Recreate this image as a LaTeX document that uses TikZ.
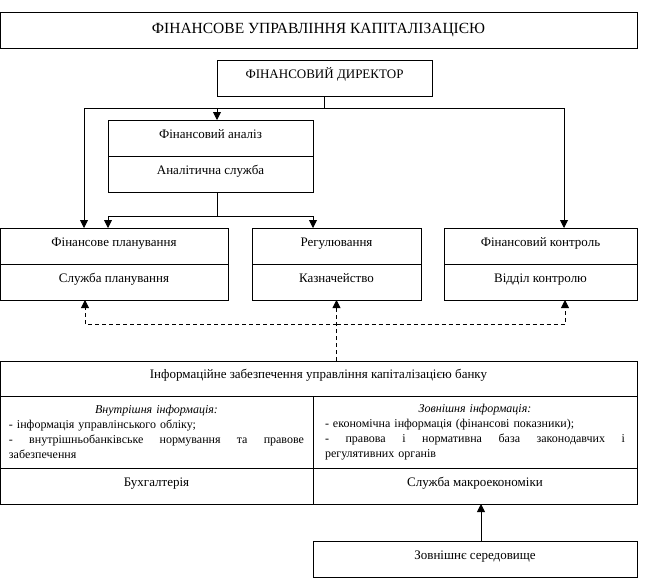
\documentclass[tikz,border=0pt]{standalone}
\usepackage{fontspec}
\setmainfont{Liberation Serif}
\usepackage{tikz}
\usetikzlibrary{arrows.meta,positioning}

\begin{document}
\begin{tikzpicture}[
        x=1pt, y=-1pt,
        box/.style={rectangle, draw, line width=0.9pt, inner sep=0pt, outer sep=0pt, anchor=north west, minimum height=36pt, text height=8pt, text depth=8pt, font=\fontsize{13}{15}\selectfont},
        infobox/.style={rectangle, draw, line width=0.9pt, inner ysep=0pt, outer sep=0pt, anchor=north west, minimum height=72pt, align=left, font=\fontsize{12}{15}\selectfont},
        arrow/.style={-{Triangle[length=8pt,width=8pt]}, line width=0.9pt},
        dasharrow/.style={arrow, dashed, dash pattern=on 4pt off 3pt}
    ]
        \useasboundingbox (0,0) rectangle (660,579);

        % Top
        \node[box, minimum width=637pt, text height=10pt, text depth=4pt, font=\fontsize{15.5}{18}\selectfont] (title) at (0,12) {ФІНАНСОВЕ УПРАВЛІННЯ КАПІТАЛІЗАЦІЄЮ};
        \node[box, minimum width=215pt] (director) at (217,60) {ФІНАНСОВИЙ ДИРЕКТОР};

        % Analysis
        \node[box, minimum width=205pt] (analysis) at (108,120) {Фінансовий аналіз};
        \node[box, minimum width=205pt, below=0pt of analysis] (analytics) {Аналітична служба};

        % Departments
        \node[box, minimum width=228pt] (planning) at (0,228) {Фінансове планування};
        \node[box, minimum width=228pt, below=0pt of planning] (planserv) {Служба планування};
        \node[box, minimum width=169pt] (regulation) at (252,228) {Регулювання};
        \node[box, minimum width=169pt, below=0pt of regulation] (treasury) {Казначейство};
        \node[box, minimum width=193pt] (control) at (444,228) {Фінансовий контроль};
        \node[box, minimum width=193pt, below=0pt of control] (controldep) {Відділ контролю};

        % Information support
        \node[box, minimum width=637pt, minimum height=35pt] (info) at (0,361) {Інформаційне забезпечення управління капіталізацією банку};
        \node[infobox, text width=295pt, inner xsep=9pt] (internal) at (0,396) {%
            \makebox[295pt]{\itshape Внутрішня інформація:}\\
            - інформація управлінського обліку;\\
            \makebox[295pt][s]{-\hfill внутрішньобанківське\hfill нормування\hfill та\hfill правове}\\
            забезпечення};
        \node[infobox, text width=300pt, inner xsep=12pt, right=0pt of internal] (external) {%
            \makebox[300pt]{\itshape Зовнішня інформація:}\\
            - економічна інформація (фінансові показники);\\
            \makebox[300pt][s]{-\hfill правова\hfill і\hfill нормативна\hfill база\hfill законодавчих\hfill і}\\
            регулятивних органів};
        \node[box, minimum width=313pt, below=0pt of internal] (accounting) {Бухгалтерія};
        \node[box, minimum width=324pt, below=0pt of external] (macro) {Служба макроекономіки};
        \node[box, minimum width=324pt] (environment) at (313,541) {Зовнішнє середовище};

        % Helper points
        \coordinate (split) at ([yshift=-12pt]director.south);
        \coordinate (anltop) at ([xshift=109pt]analysis.north west);
        \coordinate (anlbot) at ([xshift=109pt]analytics.south west);
        \coordinate (branch) at ([yshift=-24pt]anlbot);
        \coordinate (dash) at ([yshift=-24pt]treasury.south);

        % Arrows
        \draw[line width=0.9pt] (director) -- (split);
        \draw[arrow] (split) -| ([xshift=84pt]planning.north west);
        \draw[arrow] (split) -| ([xshift=120pt]control.north west);
        \draw[arrow] (anltop |- split) -- (anltop);
        \draw[line width=0.9pt] (anlbot) -- (branch);
        \draw[arrow] (branch) -| (planning.north -| analytics.south west);
        \draw[arrow] (branch) -| (regulation.north -| analytics.south east);

        % Information flows
        \draw[dasharrow] (info.north -| treasury.south) -- (treasury.south);
        \draw[dasharrow] (dash) -| ([xshift=85pt]planserv.south west);
        \draw[dasharrow] (dash) -| ([xshift=121pt]controldep.south west);
        \draw[arrow] ([xshift=168pt]environment.north west) -- ([xshift=168pt]macro.south west);
    \end{tikzpicture}
\end{document}
